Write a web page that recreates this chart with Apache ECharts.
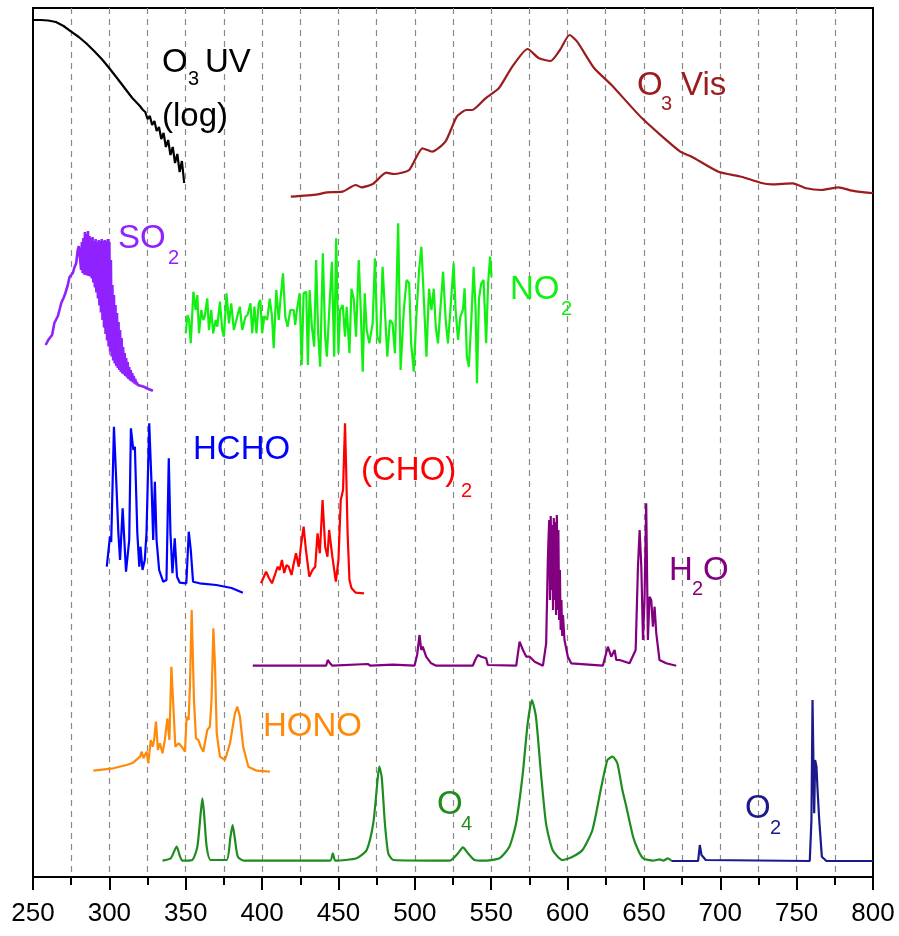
<!DOCTYPE html>
<html><head><meta charset="utf-8">
<script src="https://cdn.jsdelivr.net/npm/echarts@6/dist/echarts.min.js"></script>
<style>html,body{margin:0;padding:0;background:#fff}#c{width:899px;height:936px}</style>
</head><body><div id="c"></div>
<script>
// ---------------- data (wavelength in nm, offset absorbance in arbitrary units) ----------------
const xTicks = [250,300,350,400,450,500,550,600,650,700,750,800];

const o3uvWl  = [250,255,260,265,270,275,280,285,290,295,300,305,310,315,320,322,323.5,325,326.5,328,329.5,331,332.5,334,335.5,337,338.5,340,341.5,343,344.5,346,347.5,349];
const o3uvAbs = [85.7,85.7,85.65,85.5,85.1,84.53,84.0,83.35,82.6,81.8,80.87,79.9,78.9,77.9,77.1,76.7,76.5,75.8,76.1,75.2,75.6,74.6,75.0,73.8,74.4,73.0,73.7,72.2,73.0,71.4,72.3,70.5,71.6,69.4];

const o3visWl  = [418.8,436.3,442.5,452.5,461.3,465,472.5,481.3,486.3,496.3,505,511.3,520,527.5,533.8,537.5,546.3,555,563.8,573.8,581.3,588.8,595,601.3,606.3,617.5,628.8,648.8,673.8,681.3,698.8,713.8,726.3,733.8,747.5,756.3,766.3,777.5,786.3,796.3,800];
const o3visAbs = [68.03,68.27,68.47,68.53,69.2,68.97,69.3,70.43,70.3,70.7,72.87,72.53,73.53,76.03,76.7,76.7,77.87,78.87,81.03,82.8,81.87,81.6,82.7,84.2,83.53,80.87,79.2,75.87,72.53,72.03,70.53,70.03,69.43,69.27,69.37,68.87,68.7,68.97,68.63,68.43,68.4];

const so2Wl  = [258.3,260,261,262.5,264,265,266.3,267.5,268.5,270,271,272.8,273.9,275,276.1,277,278.3,279.3,280,
  281,281.5,282,282.5,283,283.5,284,284.5,285,285.5,286,286.5,287,287.5,288,288.5,289,289.5,290,290.5,291,291.5,292,292.5,293,293.5,294,294.5,295,295.5,296,296.5,297,297.5,298,298.5,299,299.5,
  300,300.5,301,301.5,302,302.5,303,303.5,304,304.5,305,305.5,306,306.5,307,307.5,308,308.5,309,309.5,310,310.5,311,311.5,312,312.5,313,313.5,314,314.5,315,315.5,316,316.5,317,317.5,318,318.5,319,319.5,
  321,323,325.5,328.5];
const so2Abs = [53.2,53.7,53.9,54.2,55.4,55.6,56.1,56.8,57.4,57.9,58.3,59.2,60.0,60.1,60.4,60.9,61.4,62.7,63.1,
  63.3,60.7,63.5,60.4,63.9,60.25,64.5,60.2,64.3,60.15,64.6,60.1,64.1,60.05,63.9,59.85,64.0,59.45,63.6,58.95,63.8,58.45,63.5,57.85,63.7,57.15,63.6,56.45,63.8,55.7,63.6,54.95,63.7,54.3,63.6,53.65,63.8,53.05,
  63.5,52.55,61.7,52.05,59.2,51.65,58.2,51.35,57.2,51.1,56.4,50.9,55.5,50.7,54.7,50.5,53.9,50.35,53.0,50.25,52.4,50.1,51.9,49.95,51.5,49.8,51.0,49.65,50.7,49.55,50.4,49.45,50.1,49.35,49.8,49.25,49.5,49.2,49.3,49.2,
  49.1,49.0,48.8,48.63];

const no2Wl  = [350,351.1,352.2,353.3,355,356.5,357.6,358.7,360.2,361.5,362.5,364.1,365.2,366.7,368,369.6,370.7,372.4,373.9,375,376.7,378.3,379.8,381.5,383.7,385.4,387,389.1,390.5,392.4,393.5,395,396.3,397.8,398.9,400,401.5,403.3,405,406.5,407.6,409.3,410.9,412,413.7,415.2,416.7,418.5,420.7,421.7,422.8,424.6,425.9,427.2,428.9,430,431.1,432.6,434.1,435.4,436.7,438,439.8,441.3,442.4,444.1,445.7,447.2,448.5,450,451.1,452.8,454.3,455.4,457.2,458.5,460,461.5,463.3,464.6,465.9,467.2,468.5,470.2,472.4,473.9,475.4,477.2,478.9,480.4,482,483.7,485.4,487,489.1,490.7,492.8,494.6,496.3,497.6,499.3,501,502.8,504.3,505.9,507.6,509.3,510.9,512.4,513.7,515.2,516.7,518.5,520.2,521.7,523.3,525.4,526.7,528.3,529.8,531.5,532.6,534.1,535.4,537,538.5,539.8,540.7,542,543.5,545,546.7,548,549.3,550.2];
const no2Abs = [54.37,56.2,55.7,53.37,58.53,56.7,58.2,54.37,56.7,55.7,56.1,57.87,54.7,56.7,54.37,55.7,55.03,57.53,54.7,54.03,58.37,55.37,57.37,54.7,56.03,57.03,54.7,56.03,56.2,57.37,54.37,57.03,54.37,57.37,57.7,54.37,56.1,55.7,57.83,56.03,52.87,58.7,55.7,57.7,60.37,56.03,55.03,56.7,56.7,55.2,56.7,58.37,51.2,58.37,58.53,51.2,58.7,55.03,53.03,61.7,54.4,51.03,62.37,54.03,52.03,57.03,61.53,52.03,63.87,52.37,56.7,57.2,54.03,57.03,52.37,58.83,57.83,54.03,61.7,56.7,50.53,58.37,54.7,53.37,55.37,61.87,54.03,53.37,61.03,56.7,52.03,55.7,55.37,52.37,65.37,50.7,56.7,59.7,59.37,53.37,50.53,56.03,60.7,63.03,57.83,52.03,58.83,56.7,58.83,55.03,53.37,56.7,60.53,55.7,53.37,56.7,61.37,56.7,53.7,56.03,56.7,58.87,52.03,51.03,55.7,61.03,56.7,49.37,57.83,59.37,59.7,53.37,59.37,62.03,60.03];

const hchoWl  = [298.3,300.4,301.2,303,304.3,305.9,307,308.7,309.8,310.9,313,314.1,315.7,316.7,318.3,319.6,320.4,321.7,323.2,324.3,326.1,327.6,328.7,329.8,330.9,332.6,335.2,337.4,338.9,340,341.3,342.8,344.3,346.1,350.4,352,353.3,354.8,359.1,370,380,387.4];
const hchoAbs = [31.03,34.03,33.5,45.03,40.37,34.37,31.7,36.87,33.7,30.53,33.7,44.87,42.7,43.03,34.4,31.03,33.03,30.7,31.7,34.37,45.37,39.37,33.7,39.53,33.7,30.7,29.53,29.7,41.87,34.37,30.37,33.87,30.03,29.43,29.37,34.53,32.7,29.53,29.37,29.2,28.9,28.43];

const glyoxalWl  = [399.3,402.6,404.5,406.5,409,410.2,411.5,413,414.5,416,417.4,419.3,420.5,422.2,424,425.5,427.2,428.7,430.9,433,434.8,436.3,437.8,439.6,441.3,442.8,443.9,446,448.3,450,451.5,453,454.3,455,456,457.2,458.5,461.3,466.7];
const glyoxalAbs = [29.37,30.53,29.9,29.37,30.5,31.03,30.7,31.7,30.4,31.2,31.03,30.2,31.2,32.37,31.03,33.2,35.03,32.7,30.03,30.7,31.03,34.37,32.37,37.7,33.03,32.03,34.7,32.03,29.53,31.7,37.7,38.7,45.37,41.03,34.37,29.7,28.9,28.43,28.37];

const h2oWl  = [393.9,441.9,443,444.5,446,469.2,471,485.6,499.8,501.5,503.1,504.2,505.2,507.4,510.7,514,538,539.5,541.3,543.5,544.6,546.7,547.8,566.4,568.6,570.8,573,575.2,578.5,583.9,586,587.1,587.5,588,588.5,589,589.5,590,590.5,591,591.5,592,592.5,593,593.5,594,594.5,595,595.5,596,596.5,597,598,600.2,602.4,623.1,626.4,628.6,630.8,631.9,634.1,640.6,644.6,646.1,647.2,648.3,649.4,650.4,651.5,652.6,653.7,654.8,655.9,657,658.1,660.2,664.6,671.2];
const h2oAbs = [21.13,21.13,21.7,21.37,21.13,21.3,21.13,21.23,21.13,22.2,24.2,22.7,23.03,22.03,21.37,21.13,21.13,21.7,22.2,22.03,22.1,21.87,21.2,21.13,23.53,22.7,22.03,22.03,21.53,21.13,23.37,31.7,33.7,35.7,27.7,36.1,28.7,35.2,26.7,35.9,27.7,35.5,26.2,36.2,26.7,34.7,25.7,30.7,24.7,27.7,24.1,26.2,23.7,22.03,21.37,21.13,23.03,22.03,22.7,21.7,21.7,21.37,22.7,31.03,34.7,31.03,23.7,27.7,37.37,23.7,28.03,27.7,25.03,27.03,24.37,21.7,21.37,21.13];

const honoWl  = [289.5,302.6,311.3,315.6,320.1,321.2,322.3,324.4,325.5,327.1,328.4,329.3,330.5,331.8,333.1,334.8,336.3,338,339.3,340.6,341.9,343.2,345.4,347.4,349.5,350.6,351.9,352.8,353.9,355.4,356.7,358.3,359.8,361.5,364.1,365.8,366.9,368.1,369.2,370.3,372.4,375.7,379,382.2,383.8,385.5,387.6,391,396.4,405.1];
const honoAbs = [10.63,10.87,11.2,11.43,12.03,12.53,11.87,12.53,11.37,13.7,13.03,13.7,15.53,12.7,13.37,12.37,13.7,15.87,13.7,21.03,17.03,13.03,13.37,13.03,12.53,16.03,15.7,19.37,26.7,17.7,13.87,13.7,13.03,12.53,14.7,15.03,17.7,24.87,21.03,14.37,12.03,11.7,13.37,16.37,17.03,16.03,13.03,11.03,10.63,10.53];

const o4Wl  = [334.8,340.2,344.1,346.3,347.8,354.3,357.6,359.8,360.9,362,363.7,366.3,376.7,379.3,380.7,382,384.1,388,444.6,446.3,448,461.9,468.5,472.8,475,476.7,478.3,480.4,482.6,485.9,522.8,528.3,531.5,534.8,539.1,544.6,555.4,561.9,566.3,570.7,573.9,576.7,579.3,582.6,585.9,590.2,596.7,603.3,609.8,616.3,621.7,626.1,629.5,632.6,635.9,638.5,642.9,646.5,649.5,656,660.4,662.6,665.8,668];
const o4Abs = [1.63,1.87,3.03,2.03,1.63,1.7,3.03,6.37,7.87,6.37,3.03,1.7,1.7,4.03,5.2,4.03,2.03,1.63,1.63,2.37,1.63,1.87,2.7,5.37,8.7,11.03,10.03,5.37,2.37,1.7,1.63,2.37,2.97,2.37,1.7,1.63,1.87,3.03,5.37,10.37,15.37,17.7,16.03,10.37,5.37,2.7,1.7,2.03,2.7,4.7,8.7,11.7,12.03,11.37,8.7,7.03,4.03,2.6,1.87,1.63,1.77,1.63,1.87,1.63];

const o2Wl  = [668,685.5,686.6,687.7,688.8,690.5,758.6,759.7,760.4,761.5,762.1,763,763.7,764.8,766.5,769.5,800];
const o2Abs = [1.6,1.6,3.2,2.2,2.37,1.7,1.6,5.7,17.7,6.37,11.7,11.03,8.7,5.7,2.03,1.6,1.6];

// ---------------- chart ----------------
const chart = echarts.init(document.getElementById('c'), null, {renderer: 'canvas'});
const zip = (a, b) => a.map((x, i) => [x, b[i]]);
const LW = 2.2;
function line(name, wl, ab, color, extra) {
  return Object.assign({
    type: 'line', name: name, data: zip(wl, ab), showSymbol: false, symbol: 'none',
    lineStyle: {color: color, width: LW}, itemStyle: {color: color}, silent: true, animation: false
  }, extra || {});
}
const FONT = "'Liberation Sans', Arial, sans-serif";
function txt(x, y, t, color, size) {
  return {type: 'text', x: x, y: y, silent: true, z: 100,
    style: {text: t, fill: color, font: size + 'px ' + FONT, verticalAlign: 'middle', align: 'left'}};
}
const C = {o3uv:'#000000', o3vis:'#9a1c1c', so2:'#9022ff', no2:'#11f011', hcho:'#0000ff', gly:'#ff0000', h2o:'#82007f', hono:'#ff8a0a', o4:'#1f8c1f', o2:'#1a1a8c'};
const L = 33, S = 20;

const option = {
  animation: false,
  backgroundColor: '#ffffff',
  grid: {left: 33, right: 26, top: 8, bottom: 59, show: true, borderColor: '#000', borderWidth: 2, containLabel: false, outerBoundsMode: 'none'},
  xAxis: {
    type: 'value', min: xTicks[0], max: xTicks[xTicks.length - 1], interval: 50,
    axisLine: {show: true, onZero: false, lineStyle: {color: '#000', width: 2}},
    axisTick: {show: true, length: 13, lineStyle: {color: '#000', width: 2}},
    minorTick: {show: true, splitNumber: 2, length: 8, lineStyle: {color: '#000', width: 2}},
    splitLine: {show: true, showMinLine: false, showMaxLine: false, lineStyle: {color: '#8a8a8a', width: 1.2, type: [6, 5]}},
    minorSplitLine: {show: true, lineStyle: {color: '#8a8a8a', width: 1.2, type: [6, 5]}},
    axisLabel: {fontSize: 26, fontFamily: "'Liberation Sans Narrow', 'Liberation Sans', Arial", color: '#000', margin: 24}
  },
  yAxis: {type: 'value', min: 0, max: 86.9, show: false, splitLine: {show: false}},
  series: [
    line('O3 UV', o3uvWl, o3uvAbs, C.o3uv),
    line('O3 Vis', o3visWl, o3visAbs, C.o3vis, {smooth: 0.2}),
    line('SO2', so2Wl, so2Abs, C.so2, {lineStyle: {color: C.so2, width: 2.6}}),
    line('NO2', no2Wl, no2Abs, C.no2),
    line('HCHO', hchoWl, hchoAbs, C.hcho),
    line('(CHO)2', glyoxalWl, glyoxalAbs, C.gly),
    line('H2O', h2oWl, h2oAbs, C.h2o),
    line('HONO', honoWl, honoAbs, C.hono),
    line('O4', o4Wl, o4Abs, C.o4, {smooth: 0.2}),
    line('O2', o2Wl, o2Abs, C.o2)
  ],
  graphic: [
    txt(162, 63, 'O', C.o3uv, L), txt(188, 79, '3', C.o3uv, S), txt(205, 63, 'UV', C.o3uv, L),
    txt(162, 117, '(log)', C.o3uv, L),
    txt(637, 86, 'O', C.o3vis, L), txt(661, 104, '3', C.o3vis, S), txt(681, 86, 'Vis', C.o3vis, L),
    txt(118, 239, 'SO', C.so2, L), txt(168, 258, '2', C.so2, S),
    txt(510, 290, 'NO', C.no2, L), txt(561, 309, '2', C.no2, S),
    txt(193, 450, 'HCHO', C.hcho, L),
    txt(361, 471, '(CHO)', C.gly, L), txt(461, 491, '2', C.gly, S),
    txt(669, 571, 'H', C.h2o, L), txt(692, 589, '2', C.h2o, S), txt(703, 571, 'O', C.h2o, L),
    txt(263, 727, 'HONO', C.hono, L),
    txt(437, 805, 'O', C.o4, L), txt(461, 824, '4', C.o4, S),
    txt(745, 809, 'O', C.o2, L), txt(770, 828, '2', C.o2, S)
  ]
};
chart.setOption(option);
</script>
</body></html>
